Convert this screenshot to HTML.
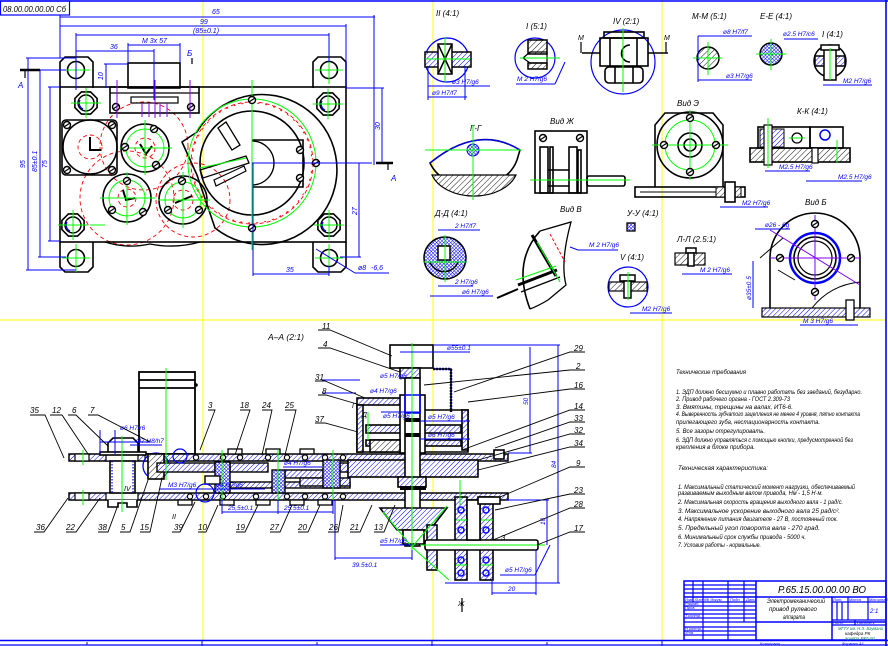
<!DOCTYPE html>
<html><head><meta charset="utf-8"><style>
html,body{margin:0;padding:0;background:#fff;}
svg{display:block}
text{font-family:"Liberation Sans","DejaVu Sans",sans-serif;font-style:italic;}
</style></head><body>
<svg width="888" height="646" viewBox="0 0 888 646" xmlns="http://www.w3.org/2000/svg">
<defs>
<pattern id="h" width="3.5" height="3.5" patternUnits="userSpaceOnUse" patternTransform="rotate(45)"><rect width="3.5" height="3.5" fill="#fff"/><line x1="0" y1="0" x2="0" y2="3.5" stroke="#0000ff" stroke-width="1"/></pattern>
<pattern id="hk" width="4" height="4" patternUnits="userSpaceOnUse" patternTransform="rotate(45)"><rect width="4" height="4" fill="#fff"/><line x1="0" y1="0" x2="0" y2="4" stroke="#000" stroke-width="0.9"/></pattern>
<pattern id="x" width="2.5" height="2.5" patternUnits="userSpaceOnUse" patternTransform="rotate(45)"><rect width="2.5" height="2.5" fill="#fff"/><line x1="0" y1="0" x2="0" y2="2.5" stroke="#0000ff" stroke-width="1"/><line x1="0" y1="0" x2="2.5" y2="0" stroke="#0000ff" stroke-width="1"/></pattern>
<g id="oct">
<polygon points="11.1,-4.6 11.1,4.6 4.6,11.1 -4.6,11.1 -11.1,4.6 -11.1,-4.6 -4.6,-11.1 4.6,-11.1" fill="none" stroke="#000" stroke-width="1.6"/>
<circle r="8" fill="none" stroke="#000" stroke-width="1.5"/>
<path d="M-6,-3 A6.5,6.5 0 0 0 -3,6" fill="none" stroke="#00f" stroke-width="1.3"/>
<line x1="-15" y1="0" x2="15" y2="0" stroke="#0f0" stroke-width="1"/>
<line x1="0" y1="-15" x2="0" y2="15" stroke="#0f0" stroke-width="1"/>
</g>
<g id="scr"><circle r="3.5" fill="#fff" stroke="#000" stroke-width="1.4"/><line x1="-3" y1="2" x2="3" y2="-2" stroke="#000" stroke-width="1.2"/></g>
<g id="ball"><circle r="2.6" fill="#fff" stroke="#000" stroke-width="1.2"/></g>
</defs>

<!-- sheet tiling lines -->
<g stroke="#ffff30" stroke-width="1.2">
<line x1="203" y1="0" x2="203" y2="641"/>
<line x1="433" y1="0" x2="433" y2="641"/>
<line x1="662" y1="0" x2="662" y2="641"/>
<line x1="0" y1="320" x2="886" y2="320"/>
</g>

<!-- frame -->
<g stroke="#0000ff" fill="none">
<line x1="0" y1="1" x2="888" y2="1" stroke-width="1.6"/>
<line x1="886" y1="0" x2="886" y2="646" stroke-width="1.6"/>
<line x1="0" y1="640.5" x2="888" y2="640.5" stroke-width="1.6"/>
<line x1="0" y1="645" x2="888" y2="645" stroke-width="1.2"/>
<line x1="202" y1="640" x2="202" y2="646"/><line x1="432" y1="640" x2="432" y2="646"/><line x1="662" y1="640" x2="662" y2="646"/>
<line x1="87" y1="642" x2="87" y2="645"/><line x1="317" y1="642" x2="317" y2="645"/><line x1="547" y1="642" x2="547" y2="645"/>
<rect x="0.5" y="1" width="69" height="14" stroke-width="1.2"/>
</g>
<text x="3" y="12" font-size="8.5" fill="#000" textLength="63" lengthAdjust="spacingAndGlyphs">08.00.00.00.00 Сб</text>

<!-- ===================== TOP-LEFT PLAN VIEW ===================== -->
<g fill="none" stroke="#f00" stroke-width="0.9" stroke-dasharray="4,3">
<circle cx="127" cy="198" r="47"/>
<circle cx="193" cy="200" r="37"/>
<circle cx="144" cy="146" r="44"/>
<circle cx="90" cy="147" r="12"/>
<circle cx="145" cy="148" r="10"/>
<circle cx="127" cy="198" r="9"/>
<circle cx="183" cy="200" r="10"/>
<circle cx="252" cy="163" r="61"/>
<circle cx="252" cy="163" r="60" stroke-dasharray="2,6"/>
</g>
<g fill="none" stroke="#000" stroke-width="1.6">
<path d="M60,88 V62 L65,57 H88 L93,62 V88"/>
<path d="M313,88 V62 L318,57 H341 L346,62 V88"/>
<path d="M60,242 V267 L65,272 H88 L93,267 V242"/>
<path d="M313,242 V267 L318,272 H341 L346,267 V242"/>
<circle cx="76" cy="70" r="8.5"/><circle cx="329" cy="70" r="8.5"/>
<circle cx="76" cy="258" r="8.5"/><circle cx="329" cy="258" r="8.5"/>
<rect x="60" y="87" width="286" height="155"/>
<path d="M105,242 Q127,249 150,244 Q175,249 200,242" stroke-width="1.4"/>
<rect x="128" y="63" width="52" height="25"/>
<rect x="110" y="87" width="89" height="26"/>
<line x1="110" y1="93" x2="199" y2="93" stroke-width="1.2"/>
<rect x="131" y="97" width="47" height="6" stroke-width="1.2"/>
<rect x="62" y="120" width="55" height="55" rx="4"/>
<circle cx="90" cy="147" r="27"/>
<path d="M90,137 V150 H101" stroke-width="2"/>
<circle cx="145" cy="148" r="24"/>
<circle cx="127" cy="198" r="24"/>
<circle cx="183" cy="200" r="24"/>
<path d="M140,144 L146,154 L152,146" stroke-width="2"/>
<path d="M123,190 L126,200 L135,198" stroke-width="2"/>
<path d="M175,203 L192,196" stroke-width="2"/>
<path d="M197,132 A75,75 0 1 1 215,228 L197,175 L182,142 Z"/>
<circle cx="252" cy="163" r="52"/>
<path d="M252,140 H303 V187 H252" />
<path d="M252,141 A22,22 0 0 1 252,185" stroke-width="1.3"/>
<polygon points="200,170 246,156 249,163 203,178" stroke-width="1.3"/>
<polygon points="218,128 226,122 240,145 232,150" stroke-width="1.3"/>
<polygon points="214,180 244,166 246,171 216,186" stroke-width="1.2"/>
</g>
<g fill="none" stroke="#0f0" stroke-width="1">
<circle cx="252" cy="163" r="64"/>
<circle cx="145" cy="148" r="19"/>
<circle cx="127" cy="198" r="18"/>
<circle cx="183" cy="200" r="18"/>
<line x1="252" y1="80" x2="252" y2="250"/>
<line x1="120" y1="148" x2="172" y2="148"/><line x1="145" y1="120" x2="145" y2="175"/>
<line x1="100" y1="198" x2="155" y2="198"/><line x1="127" y1="172" x2="127" y2="225"/>
<line x1="158" y1="200" x2="210" y2="200"/><line x1="183" y1="172" x2="183" y2="228"/>
<line x1="200" y1="168" x2="246" y2="158"/>
<line x1="90" y1="225" x2="105" y2="225"/>
</g>
<use href="#oct" x="86" y="103"/><use href="#oct" x="328" y="104"/>
<use href="#oct" x="73" y="225"/><use href="#oct" x="329" y="225"/>
<g fill="none" stroke="#0f0" stroke-width="1">
<line x1="62" y1="70" x2="90" y2="70"/><line x1="76" y1="56" x2="76" y2="84"/>
<line x1="315" y1="70" x2="343" y2="70"/><line x1="329" y1="56" x2="329" y2="84"/>
<line x1="62" y1="258" x2="90" y2="258"/><line x1="76" y1="244" x2="76" y2="272"/>
<line x1="315" y1="258" x2="343" y2="258"/><line x1="329" y1="244" x2="329" y2="272"/>
</g>
<use href="#scr" x="116" y="107"/><use href="#scr" x="191" y="107"/>
<use href="#scr" x="67" y="125"/><use href="#scr" x="112" y="125"/><use href="#scr" x="67" y="170"/><use href="#scr" x="112" y="170"/>
<use href="#scr" x="154" y="129"/><use href="#scr" x="125" y="147"/><use href="#scr" x="156" y="165"/>
<use href="#scr" x="127" y="181"/><use href="#scr" x="112" y="210"/><use href="#scr" x="143" y="212"/>
<use href="#scr" x="182" y="181"/><use href="#scr" x="168" y="210"/><use href="#scr" x="199" y="210"/>
<use href="#scr" x="252" y="100"/><use href="#scr" x="252" y="228"/><use href="#scr" x="316" y="163"/>
<use href="#scr" x="300" y="150"/><use href="#scr" x="300" y="178"/>
<g stroke="#8000ff" stroke-width="1">
<line x1="117" y1="80" x2="117" y2="118"/><line x1="155" y1="80" x2="155" y2="118"/><line x1="190" y1="80" x2="190" y2="118"/>
<line x1="142" y1="103" x2="142" y2="117"/><line x1="149" y1="103" x2="149" y2="117"/><line x1="160" y1="103" x2="160" y2="117"/><line x1="167" y1="103" x2="167" y2="117"/>
</g>
<g stroke="#0000ff" stroke-width="1" fill="none">
<line x1="60" y1="17" x2="375" y2="17"/><line x1="374" y1="15" x2="374" y2="165"/>
<line x1="60" y1="26" x2="346" y2="26"/><line x1="346" y1="24" x2="346" y2="88"/>
<line x1="76" y1="35" x2="329" y2="35"/><line x1="329" y1="33" x2="329" y2="62"/><line x1="76" y1="33" x2="76" y2="90"/>
<line x1="76" y1="51" x2="154" y2="51"/><line x1="154" y1="49" x2="154" y2="100"/>
<line x1="128" y1="45" x2="180" y2="45"/><line x1="128" y1="43" x2="128" y2="63"/><line x1="180" y1="43" x2="180" y2="63"/>
<line x1="106" y1="64" x2="106" y2="88"/><line x1="104" y1="64" x2="128" y2="64"/>
<line x1="60" y1="15" x2="60" y2="58"/>
<line x1="28" y1="58" x2="28" y2="270"/><line x1="26" y1="58" x2="76" y2="58"/><line x1="26" y1="270" x2="76" y2="270"/>
<line x1="40" y1="70" x2="40" y2="257"/><line x1="38" y1="70" x2="66" y2="70"/><line x1="38" y1="257" x2="66" y2="257"/>
<line x1="50" y1="87" x2="50" y2="241"/><line x1="48" y1="87" x2="60" y2="87"/><line x1="48" y1="241" x2="60" y2="241"/>
<line x1="382" y1="88" x2="382" y2="163"/><line x1="346" y1="88" x2="384" y2="88"/>
<line x1="359" y1="163" x2="359" y2="257"/><line x1="340" y1="257" x2="361" y2="257"/>
<line x1="252" y1="163" x2="372" y2="163"/>
<line x1="253" y1="274" x2="329" y2="274"/><line x1="253" y1="163" x2="253" y2="276"/><line x1="329" y1="266" x2="329" y2="276"/>
<line x1="316" y1="249" x2="355" y2="273"/><line x1="355" y1="273" x2="389" y2="273"/>
</g>
<g stroke="#000" stroke-width="2.5"><line x1="20" y1="70" x2="40" y2="70"/><line x1="376" y1="163" x2="393" y2="163"/></g>
<g stroke="#000" stroke-width="1.2"><line x1="25" y1="70" x2="25" y2="78"/><line x1="388" y1="163" x2="388" y2="170"/><line x1="192" y1="58" x2="192" y2="64"/></g>
<g font-size="7" fill="#0000ff">
<text x="212" y="14">65</text>
<text x="200" y="24">99</text>
<text x="193" y="33">(85±0.1)</text>
<text x="110" y="49">36</text>
<text x="142" y="43">M 3x 57</text>
<text x="286" y="272">35</text>
<text x="358" y="270">ø8</text><text x="371" y="270">-6,6</text>
<text transform="translate(25,168) rotate(-90)">95</text>
<text transform="translate(37,172) rotate(-90)">85±0.1</text>
<text transform="translate(47,168) rotate(-90)">75</text>
<text transform="translate(380,130) rotate(-90)">30</text>
<text transform="translate(357,215) rotate(-90)">27</text>
<text transform="translate(103,80) rotate(-90)">10</text>
</g>
<g font-size="8" fill="#0000ff"><text x="18" y="88">A</text><text x="391" y="181">A</text><text x="187" y="56">Б</text></g>

<!-- ===================== TOP-RIGHT DETAIL VIEWS ===================== -->
<g font-size="8" fill="#000">
<text x="436" y="16">II (4:1)</text>
<text x="526" y="29">I (5:1)</text>
<text x="613" y="24">IV (2:1)</text>
<text x="692" y="19">М-М (5:1)</text>
<text x="760" y="19">Е-Е (4:1)</text>
<text x="822" y="37">I (4:1)</text>
<text x="470" y="131">Г-Г</text>
<text x="550" y="124">Вид Ж</text>
<text x="677" y="106">Вид Э</text>
<text x="797" y="114">К-К (4:1)</text>
<text x="435" y="216">Д-Д (4:1)</text>
<text x="560" y="212">Вид В</text>
<text x="627" y="216">У-У (4:1)</text>
<text x="620" y="260">V (4:1)</text>
<text x="677" y="242">Л-Л (2.5:1)</text>
<text x="805" y="205">Вид Б</text>
</g>
<g fill="none" stroke="#000" stroke-width="1.5">
<circle cx="447" cy="60" r="22" stroke="#00f" stroke-width="1.2"/>
<rect x="425" y="52" width="46" height="15" fill="url(#h)"/>
<rect x="438" y="44" width="14" height="30" fill="#fff"/>
<line x1="438" y1="44" x2="452" y2="74"/><line x1="452" y1="44" x2="438" y2="74"/>
</g>
<g stroke="#0f0"><line x1="445" y1="37" x2="445" y2="82"/><line x1="425" y1="59" x2="470" y2="59"/></g>
<g fill="none" stroke="#000" stroke-width="1.5">
<circle cx="535" cy="58" r="20" stroke="#00f" stroke-width="1.2"/>
<rect x="528" y="40" width="19" height="14" fill="url(#hk)"/>
<rect x="528" y="63" width="19" height="6" fill="url(#hk)"/>
<path d="M523,58 L530,52 H547 V63 H530 Z" stroke-width="1.2"/>
</g>
<line x1="520" y1="58" x2="560" y2="58" stroke="#0f0"/>
<g fill="none" stroke="#000" stroke-width="1.6">
<circle cx="623" cy="62" r="32" stroke="#00f" stroke-width="1.2"/>
<rect x="600" y="38" width="48" height="28"/>
<rect x="604" y="32" width="40" height="6"/>
<line x1="610" y1="38" x2="610" y2="66"/><line x1="637" y1="38" x2="637" y2="66"/>
<rect x="605" y="67" width="38" height="16" rx="4"/>
<line x1="615" y1="67" x2="615" y2="83"/><line x1="633" y1="67" x2="633" y2="83"/>
<line x1="582" y1="53" x2="600" y2="53"/><line x1="648" y1="53" x2="668" y2="53"/>
<path d="M630,45 A8,8 0 0 0 630,62"/>
</g>
<line x1="623" y1="28" x2="623" y2="92" stroke="#0f0"/>
<g stroke="#000" stroke-width="1.2"><line x1="581" y1="42" x2="581" y2="53"/><line x1="666" y1="42" x2="666" y2="53"/></g>
<g font-size="7" fill="#000"><text x="578" y="40">M</text><text x="664" y="40">M</text></g>
<g stroke="#000" stroke-width="1.5">
<circle cx="708" cy="58" r="11" fill="url(#hk)"/>
<circle cx="771" cy="54" r="11" fill="url(#x)"/>
<circle cx="830" cy="61" r="16" fill="none"/>
<rect x="815" y="56" width="30" height="10" fill="url(#h)"/>
<rect x="824" y="48" width="12" height="32" fill="#fff"/>
<rect x="821" y="45" width="18" height="5" fill="#fff"/>
</g>
<g stroke="#0f0"><line x1="708" y1="42" x2="708" y2="75"/><line x1="693" y1="58" x2="722" y2="58"/><line x1="771" y1="39" x2="771" y2="70"/><line x1="756" y1="54" x2="786" y2="54"/><line x1="830" y1="48" x2="830" y2="80"/></g>
<path d="M430,163 Q478,124 520,150 L517,160 A46,38 0 0 1 430,163 Z" fill="none" stroke="#000" stroke-width="1.6"/>
<path d="M432,175 H516 A44,30 0 0 1 432,175 Z" fill="url(#hk)" stroke="#000" stroke-width="1.2"/>
<path d="M430,163 Q478,124 520,150" fill="none" stroke="#00f" stroke-width="1.2"/>
<circle cx="473" cy="150" r="6" fill="url(#x)" stroke="#00f"/>
<g stroke="#0f0"><line x1="425" y1="150" x2="522" y2="150"/><line x1="473" y1="125" x2="473" y2="200"/></g>
<g fill="none" stroke="#000" stroke-width="1.6">
<rect x="535" y="131" width="52" height="62"/>
<rect x="540" y="147" width="8" height="46"/><rect x="550" y="147" width="3" height="46"/>
<rect x="569" y="147" width="8" height="46"/><rect x="578" y="150" width="3" height="43"/>
<rect x="587" y="176" width="38" height="10" rx="2"/>
<line x1="548" y1="170" x2="569" y2="170"/><line x1="548" y1="186" x2="569" y2="186"/>
</g>
<use href="#scr" x="543" y="138"/><use href="#scr" x="580" y="138"/>
<line x1="530" y1="180" x2="630" y2="180" stroke="#0f0"/>
<g fill="none" stroke="#000" stroke-width="1.6">
<path d="M655,187 V125 L665,113 H713 L723,125 V187"/>
<circle cx="690" cy="145" r="33"/>
<circle cx="690" cy="145" r="12"/><circle cx="690" cy="145" r="6"/>
<rect x="635" y="187" width="110" height="10"/>
<line x1="640" y1="192" x2="740" y2="192" stroke-width="1"/>
<rect x="716" y="187" width="25" height="10" fill="url(#hk)" stroke-width="1"/>
<rect x="725" y="182" width="10" height="20" fill="#fff"/>
</g>
<circle cx="690" cy="145" r="25" fill="none" stroke="#0f0"/>
<g stroke="#0f0"><line x1="652" y1="145" x2="728" y2="145"/><line x1="690" y1="110" x2="690" y2="180"/></g>
<use href="#scr" x="690" y="118"/><use href="#scr" x="690" y="172"/><use href="#scr" x="664" y="145"/><use href="#scr" x="716" y="145"/>
<g fill="none" stroke="#000" stroke-width="1.6">
<rect x="750" y="148" width="100" height="14" fill="url(#hk)"/>
<rect x="758" y="127" width="52" height="21" fill="#fff"/>
<rect x="760" y="129" width="24" height="18" fill="url(#h)" stroke-width="1"/>
<rect x="810" y="127" width="33" height="21"/>
<rect x="764" y="125" width="8" height="40" fill="#fff" stroke-width="1.2"/>
<rect x="812" y="148" width="6" height="15" fill="#fff" stroke-width="1.2"/>
</g>
<circle cx="797" cy="138" r="5" fill="none" stroke="#000" stroke-width="1.3"/>
<circle cx="825" cy="135" r="5" fill="none" stroke="#00f" stroke-width="1.5"/>
<g stroke="#0f0"><line x1="768" y1="118" x2="768" y2="168"/><line x1="789" y1="138" x2="805" y2="138"/><line x1="837" y1="140" x2="837" y2="163"/></g>
<circle cx="445" cy="258" r="21" fill="url(#x)" stroke="#000" stroke-width="1.5"/>
<rect x="438" y="246" width="12" height="14" fill="#fff" stroke="#000" stroke-width="1.5"/>
<path d="M430,262 A15,15 0 0 0 458,262" fill="none" stroke="#000" stroke-width="1.5"/>
<g stroke="#0f0"><line x1="445" y1="235" x2="445" y2="282"/><line x1="424" y1="262" x2="466" y2="262"/></g>
<g fill="none" stroke="#000" stroke-width="1.6">
<path d="M540,231 Q512,262 530,309"/>
<path d="M540,231 L571,222 Q560,262 566,285 L548,300 Q538,306 530,309" stroke-width="1.3"/>
<path d="M532,235 L556,276" stroke-width="3"/>
<path d="M518,285 L557,270" stroke-width="3"/>
<path d="M521,292 L560,277" stroke-width="1.3"/>
<line x1="497" y1="298" x2="518" y2="289" stroke-width="2"/>
</g>
<g stroke="#0f0"><line x1="537" y1="242" x2="560" y2="282"/><line x1="516" y1="280" x2="556" y2="266"/></g>
<g stroke="#f00" stroke-dasharray="3,2"><line x1="550" y1="234" x2="565" y2="262"/></g>
<rect x="627" y="223" width="8" height="8" fill="url(#x)" stroke="#000" stroke-width="1.3"/>
<circle cx="628" cy="287" r="20" fill="none" stroke="#00f" stroke-width="1.2"/>
<rect x="609" y="282" width="38" height="9" fill="url(#hk)" stroke="#000" stroke-width="1.2"/>
<rect x="620" y="275" width="15" height="6" fill="#fff" stroke="#000" stroke-width="1.5"/>
<rect x="624" y="281" width="7" height="17" fill="#fff" stroke="#000" stroke-width="1.5"/>
<line x1="628" y1="272" x2="628" y2="300" stroke="#0f0"/>
<rect x="675" y="253" width="30" height="12" fill="url(#hk)" stroke="#000" stroke-width="1.2"/>
<rect x="686" y="248" width="10" height="5" fill="#fff" stroke="#000" stroke-width="1.5"/>
<rect x="688" y="253" width="6" height="13" fill="#fff" stroke="#000" stroke-width="1.5"/>
<g fill="none" stroke="#000" stroke-width="1.6">
<path d="M770,308 V258 A45,45 0 0 1 860,258 V308"/>
<rect x="762" y="308" width="108" height="9" fill="url(#h)" stroke-width="1.2"/>
<circle cx="815" cy="258" r="21"/>
<circle cx="815" cy="258" r="17" stroke-width="1.2"/>
<path d="M812,308 Q830,285 860,282" stroke-width="1"/>
<rect x="846" y="300" width="8" height="20" fill="#fff" stroke-width="1.3"/>
</g>
<circle cx="815" cy="258" r="25" fill="none" stroke="#00f" stroke-width="2.5"/>
<g stroke="#8000ff" stroke-width="1"><line x1="815" y1="215" x2="815" y2="300"/><line x1="770" y1="258" x2="860" y2="258"/><line x1="770" y1="230" x2="860" y2="285"/></g>
<use href="#scr" x="815" y="224"/><use href="#scr" x="815" y="292"/><use href="#scr" x="780" y="258"/><use href="#scr" x="851" y="258"/>
<g stroke="#000" stroke-width="1"><line x1="760" y1="258" x2="783" y2="238"/><line x1="778" y1="270" x2="795" y2="280"/></g>
<g stroke="#0000ff" stroke-width="1" fill="none">
<line x1="428" y1="86" x2="490" y2="86"/><line x1="428" y1="97" x2="467" y2="97"/>
<line x1="428" y1="66" x2="428" y2="100"/><line x1="465" y1="66" x2="465" y2="100"/>
<line x1="516" y1="84" x2="555" y2="84"/><line x1="555" y1="84" x2="565" y2="62"/>
<line x1="698" y1="36" x2="752" y2="36"/><line x1="698" y1="80" x2="752" y2="80"/><line x1="698" y1="36" x2="698" y2="82"/>
<line x1="784" y1="39" x2="818" y2="39"/>
<line x1="823" y1="85" x2="872" y2="85"/>
<line x1="438" y1="230" x2="480" y2="230"/><line x1="438" y1="286" x2="473" y2="286"/><line x1="430" y1="296" x2="493" y2="296"/>
<line x1="578" y1="250" x2="618" y2="250"/><line x1="570" y1="247" x2="578" y2="250"/>
<line x1="630" y1="313" x2="672" y2="313"/>
<line x1="682" y1="274" x2="732" y2="274"/>
<line x1="753" y1="261" x2="753" y2="308"/>
<line x1="755" y1="229" x2="790" y2="229"/>
<line x1="800" y1="325" x2="858" y2="325"/>
<line x1="765" y1="171" x2="810" y2="171"/><line x1="806" y1="181" x2="862" y2="181"/>
<line x1="720" y1="207" x2="768" y2="207"/>
</g>
<g font-size="6.5" fill="#0000ff">
<text x="452" y="84">ø3 H7/g6</text><text x="432" y="95">ø9 H7/f7</text>
<text x="517" y="81">M 2 H7/g6</text>
<text x="723" y="34">ø8 H7/f7</text><text x="726" y="78">ø3 H7/g6</text>
<text x="783" y="36">ø2.5 H7/c6</text>
<text x="843" y="83">M2 H7/g6</text>
<text x="455" y="228">2 H7/f7</text><text x="455" y="284">2 H7/g6</text><text x="462" y="294">ø6 H7/g6</text>
<text x="589" y="247">M 2 H7/g6</text>
<text x="642" y="311">M2 H7/g6</text>
<text x="700" y="272">M 2 H7/g6</text>
<text x="779" y="169">M2.5 H7/g6</text><text x="838" y="179">M2.5 H7/g6</text>
<text x="742" y="205">M2 H7/g6</text>
<text x="803" y="323">M 3 H7/g6</text>
<text x="765" y="227">ø26 - 6g</text>
<text transform="translate(751,300) rotate(-90)">ø35±0.5</text>
</g>

<!-- ===================== SECTION A-A ===================== -->
<text x="268" y="340" font-size="8.5" fill="#000">А–А (2:1)</text>
<g fill="none" stroke="#000" stroke-width="1.8">
<rect x="139" y="372" width="56" height="82" fill="#fff"/>
<line x1="139" y1="380" x2="195" y2="380"/><line x1="139" y1="388" x2="195" y2="388"/>
</g>
<circle cx="196" cy="385" r="1.8" fill="#000"/>
<g stroke="#000" stroke-width="1.5">
<rect x="69" y="454" width="439" height="7" fill="url(#h)"/>
<rect x="69" y="493" width="439" height="7" fill="url(#h)"/>
</g>
<g fill="#fff" stroke="#000" stroke-width="1.2">
<rect x="75" y="454" width="14" height="7"/><rect x="75" y="493" width="14" height="7"/>
<rect x="106" y="454" width="32" height="7"/><rect x="106" y="493" width="32" height="7"/>
<rect x="145" y="454" width="12" height="7"/>
</g>
<g stroke="#000" stroke-width="1.6" fill="#fff">
<rect x="110" y="461" width="25" height="32"/>
<path d="M108,454 V443 L113,438 H133 L138,443 V454 Z"/>
<rect x="100" y="452" width="46" height="3"/>
<path d="M108,500 V507 H118 V503 H127 V507 H137 V500"/>
</g>
<g stroke="#00f" stroke-width="1.2" stroke-dasharray="1.5,1.5"><line x1="112" y1="461" x2="112" y2="493"/><line x1="133" y1="461" x2="133" y2="493"/></g>
<circle cx="156" cy="466" r="13" fill="none" stroke="#00f" stroke-width="1.3"/>
<rect x="148" y="454" width="16" height="25" fill="url(#hk)" stroke="#000" stroke-width="1.6"/>
<g stroke="#000" stroke-width="1.4">
<rect x="157" y="463" width="58" height="9" fill="url(#h)"/>
<rect x="230" y="463" width="38" height="9" fill="url(#h)"/>
<rect x="230" y="482" width="120" height="6" fill="url(#h)"/>
<rect x="285" y="470" width="38" height="8" fill="url(#h)"/>
<rect x="340" y="463" width="20" height="9" fill="url(#h)"/>
<rect x="300" y="478" width="50" height="8" fill="url(#h)"/>
<rect x="215" y="462" width="15" height="31" fill="url(#x)"/>
<rect x="272" y="470" width="13" height="23" fill="url(#x)"/>
<rect x="323" y="460" width="17" height="28" fill="url(#x)"/>
<rect x="205" y="476" width="15" height="8" fill="#fff"/>
</g>
<g>
<use href="#ball" x="196" y="457.5"/><use href="#ball" x="223" y="457.5"/><use href="#ball" x="240" y="457.5"/><use href="#ball" x="268" y="457.5"/><use href="#ball" x="287" y="457.5"/><use href="#ball" x="305" y="457.5"/><use href="#ball" x="325" y="457.5"/><use href="#ball" x="343" y="457.5"/>
<use href="#ball" x="190" y="496.5"/><use href="#ball" x="206" y="496.5"/><use href="#ball" x="223" y="496.5"/><use href="#ball" x="256" y="496.5"/><use href="#ball" x="287" y="496.5"/><use href="#ball" x="305" y="496.5"/><use href="#ball" x="325" y="496.5"/><use href="#ball" x="343" y="496.5"/>
</g>
<g fill="#fff" stroke="#000" stroke-width="1.3">
<rect x="178" y="500" width="14" height="5"/><rect x="220" y="500" width="14" height="5"/><rect x="256" y="500" width="14" height="5"/><rect x="290" y="500" width="14" height="5"/><rect x="318" y="500" width="14" height="5"/>
<rect x="228" y="449" width="14" height="5"/><rect x="266" y="449" width="14" height="5"/><rect x="300" y="449" width="14" height="5"/>
</g>
<circle cx="180" cy="456" r="7" fill="none" stroke="#00f" stroke-width="1.2"/>
<circle cx="205" cy="493" r="9" fill="none" stroke="#00f" stroke-width="1.2"/>
<g stroke="#000" stroke-width="1.6">
<rect x="390" y="345" width="43" height="23" fill="#fff"/>
<rect x="400" y="368" width="20" height="10" fill="url(#h)"/>
<path d="M433,369 H451 V412" fill="none" stroke="#00f" stroke-width="2.5" stroke-dasharray="2,1"/>
<path d="M433,369 H451 V412" fill="none"/>
<rect x="357" y="398" width="60" height="7" fill="url(#h)"/>
<path d="M357,405 V452 H468 V410 H417" fill="none"/>
<rect x="357" y="405" width="6" height="47" fill="url(#h)"/>
<rect x="462" y="410" width="6" height="40" fill="url(#h)"/>
<rect x="366" y="425" width="95" height="8" fill="url(#h)"/>
<rect x="366" y="440" width="95" height="6" fill="url(#h)"/>
<rect x="400" y="395" width="25" height="58" fill="#fff"/>
<rect x="370" y="440" width="30" height="12" fill="url(#hk)"/>
<rect x="348" y="460" width="130" height="17" fill="url(#h)"/>
<rect x="405" y="378" width="15" height="168" fill="#fff"/>
<rect x="398" y="477" width="28" height="10" fill="url(#h)"/>
<path d="M380,508 H447 L430,530 H397 Z" fill="url(#h)"/>
<rect x="403" y="530" width="21" height="14" fill="#fff"/>
<rect x="455" y="497" width="12" height="83" fill="url(#h)"/>
<rect x="480" y="497" width="13" height="83" fill="url(#h)"/>
<rect x="427" y="525" width="10" height="45" fill="url(#h)"/>
<rect x="425" y="540" width="113" height="10" rx="2" fill="#fff"/>
<rect x="467" y="500" width="13" height="40" fill="#fff"/>
<rect x="478" y="497" width="22" height="7" fill="#fff"/>
<rect x="494" y="450" width="10" height="9" fill="#fff"/>
</g>
<g fill="#000"><rect x="405" y="418" width="15" height="4"/><rect x="405" y="433" width="15" height="4"/><rect x="400" y="486" width="26" height="4"/></g>
<g stroke="#00f" stroke-width="1.5" fill="none">
<rect x="405" y="395" width="15" height="18"/>
<circle cx="461" cy="510" r="3"/><circle cx="461" cy="530" r="3"/><circle cx="461" cy="560" r="3"/><circle cx="461" cy="573" r="3"/>
<circle cx="486" cy="510" r="3"/><circle cx="486" cy="530" r="3"/><circle cx="486" cy="560" r="3"/><circle cx="486" cy="573" r="3"/>
</g>
<g stroke="#0f0" stroke-width="1">
<line x1="412" y1="343" x2="412" y2="560"/>
<line x1="166" y1="368" x2="166" y2="480"/>
<line x1="122" y1="436" x2="122" y2="512"/>
<line x1="83" y1="450" x2="83" y2="465"/><line x1="83" y1="490" x2="83" y2="505"/>
<line x1="222" y1="450" x2="222" y2="505"/><line x1="278" y1="450" x2="278" y2="505"/><line x1="333" y1="450" x2="333" y2="505"/>
<line x1="383" y1="512" x2="412" y2="547"/><line x1="447" y1="506" x2="412" y2="547"/><line x1="412" y1="547" x2="449" y2="580"/>
<line x1="420" y1="545" x2="545" y2="545"/>
<line x1="456" y1="520" x2="467" y2="520"/><line x1="456" y1="565" x2="467" y2="565"/>
<line x1="481" y1="520" x2="493" y2="520"/><line x1="481" y1="565" x2="493" y2="565"/>
<line x1="368" y1="412" x2="368" y2="440"/><line x1="460" y1="480" x2="460" y2="505"/>
</g>
<g stroke="#0000ff" stroke-width="1" fill="none">
<line x1="433" y1="345" x2="560" y2="345"/>
<line x1="400" y1="352" x2="470" y2="352"/>
<line x1="530" y1="347" x2="530" y2="453"/><line x1="508" y1="453" x2="532" y2="453"/>
<line x1="558" y1="345" x2="558" y2="583"/><line x1="445" y1="583" x2="560" y2="583"/>
<line x1="547" y1="500" x2="547" y2="545"/><line x1="505" y1="500" x2="549" y2="500"/>
<line x1="335" y1="558" x2="412" y2="558"/><line x1="335" y1="500" x2="335" y2="560"/><line x1="412" y1="550" x2="412" y2="560"/>
<line x1="492" y1="593" x2="536" y2="593"/><line x1="492" y1="580" x2="492" y2="595"/><line x1="536" y1="550" x2="536" y2="595"/>
<line x1="222" y1="512" x2="333" y2="512"/><line x1="222" y1="500" x2="222" y2="514"/><line x1="278" y1="500" x2="278" y2="514"/><line x1="333" y1="500" x2="333" y2="514"/>
<line x1="160" y1="489" x2="212" y2="489"/><line x1="212" y1="489" x2="265" y2="489"/>
<line x1="283" y1="467" x2="322" y2="467"/>
<line x1="100" y1="442" x2="150" y2="442"/><line x1="100" y1="430" x2="100" y2="454"/><line x1="115" y1="430" x2="115" y2="454"/>
<line x1="130" y1="445" x2="162" y2="445"/>
<line x1="322" y1="380" x2="360" y2="380"/><line x1="322" y1="393" x2="356" y2="393"/>
<line x1="381" y1="412" x2="420" y2="412"/><line x1="420" y1="421" x2="470" y2="421"/><line x1="420" y1="439" x2="470" y2="439"/>
<line x1="360" y1="558" x2="412" y2="558"/>
<line x1="380" y1="545" x2="412" y2="545"/>
<line x1="500" y1="575" x2="535" y2="575"/><line x1="535" y1="575" x2="550" y2="545"/>
</g>
<g font-size="6.5" fill="#0000ff">
<text x="447" y="350">ø55±0.1</text>
<text x="380" y="378">ø5 H7/g6</text><text x="370" y="393">ø4 H7/g6</text>
<text x="383" y="418">ø5 H7/g6</text><text x="428" y="419">ø5 H7/g6</text><text x="428" y="437">ø6 H7/g6</text>
<text x="284" y="465">ø4 H7/g6</text>
<text x="168" y="487">M3 H7/g6</text><text x="216" y="487">ø4 H7/g6</text>
<text x="120" y="430">ø6 Н7/r6</text><text x="136" y="443">Ø7 H8/h7</text>
<text x="228" y="510">25,5±0.1</text><text x="284" y="510">25.5±0.1</text>
<text x="352" y="567">39.5±0.1</text>
<text x="380" y="543">ø5 H7/g6</text>
<text x="505" y="572">ø5 H7/g6</text>
<text x="508" y="591">20</text>
<text transform="translate(528,405) rotate(-90)">50</text>
<text transform="translate(556,468) rotate(-90)">84</text>
<text transform="translate(545,525) rotate(-90)">10</text>
</g>
<g stroke="#000" stroke-width="0.9" fill="none">
<path d="M30,415 H45 L64,458"/><path d="M50,415 H62 L88,454"/><path d="M68,415 H76 L108,446"/><path d="M88,415 H98 L150,442"/>
<path d="M208,410 H215 L200,450"/><path d="M240,410 H250 L235,455"/><path d="M262,410 H272 L262,455"/><path d="M285,410 H296 L285,455"/>
<path d="M34,532 H44 L68,498"/><path d="M66,532 H76 L100,498"/><path d="M98,532 H108 L118,505"/><path d="M120,532 H130 L148,480"/><path d="M140,532 H150 L162,478"/>
<path d="M172,532 H180 L195,502"/><path d="M198,532 H206 L218,505"/><path d="M236,532 H245 L258,505"/><path d="M270,532 H280 L292,505"/><path d="M298,532 H308 L320,505"/><path d="M328,532 H338 L343,505"/><path d="M350,532 H360 L372,505"/><path d="M374,532 H384 L395,505"/>
<path d="M318,330 H330 L392,356"/><path d="M318,348 H330 L400,372"/><path d="M315,381 H325 L365,398"/><path d="M318,395 H326 L357,404"/><path d="M315,423 H325 L358,432"/>
<path d="M585,352 H570 L454,392"/><path d="M585,370 H570 L424,385"/><path d="M585,389 H570 L468,402"/><path d="M585,410 H570 L462,450"/><path d="M585,422 H570 L495,448"/><path d="M585,434 H570 L478,460"/><path d="M585,447 H570 L478,470"/><path d="M585,467 H570 L500,497"/><path d="M585,494 H570 L495,510"/><path d="M585,508 H570 L493,540"/><path d="M585,532 H570 L537,545"/>
</g>
<g font-size="8" fill="#000">
<text x="30" y="413">35</text><text x="52" y="413">12</text><text x="72" y="413">6</text><text x="90" y="413">7</text>
<text x="208" y="408">3</text><text x="240" y="408">18</text><text x="262" y="408">24</text><text x="285" y="408">25</text>
<text x="36" y="530">36</text><text x="66" y="530">22</text><text x="98" y="530">38</text><text x="121" y="530">5</text><text x="140" y="530">15</text>
<text x="174" y="530">39</text><text x="198" y="530">10</text><text x="236" y="530">19</text><text x="270" y="530">27</text><text x="298" y="530">20</text><text x="329" y="530">26</text><text x="350" y="530">21</text><text x="374" y="530">13</text>
<text x="322" y="329">11</text><text x="323" y="347">4</text><text x="315" y="380">31</text><text x="322" y="394">8</text><text x="315" y="422">37</text>
<text x="574" y="351">29</text><text x="576" y="369">2</text><text x="574" y="388">16</text><text x="574" y="409">14</text><text x="574" y="421">33</text><text x="574" y="433">32</text><text x="574" y="446">34</text><text x="576" y="466">9</text><text x="574" y="493">23</text><text x="574" y="507">28</text><text x="574" y="531">17</text>
</g>
<g font-size="7" fill="#000"><text x="124" y="491">IV</text><text x="172" y="519">II</text><text x="501" y="540">З</text><text x="458" y="606">Ж</text><text x="362" y="417">Д</text><text x="352" y="408">Г</text></g>
<line x1="462" y1="598" x2="462" y2="612" stroke="#000" stroke-width="1.2"/>

<!-- ===================== TECH REQUIREMENTS ===================== -->
<g font-size="6.6" fill="#000">
<text x="676" y="374" textLength="70" lengthAdjust="spacingAndGlyphs">Технические требования</text>
<text x="676" y="394" textLength="186" lengthAdjust="spacingAndGlyphs">1. ЭДП должно бесшумно и плавно работать без заеданий, безударно.</text>
<text x="676" y="401" textLength="114" lengthAdjust="spacingAndGlyphs">2. Привод рабочего органа - ГОСТ 2.309-73</text>
<text x="676" y="409" textLength="117" lengthAdjust="spacingAndGlyphs">3. Вмятины, трещины на валах, ИТ6-6.</text>
<text x="676" y="416" textLength="184" lengthAdjust="spacingAndGlyphs">4. Выверенность зубчатого зацепления не менее 4 уровня, пятно контакта</text>
<text x="676" y="424" textLength="144" lengthAdjust="spacingAndGlyphs">прилегающего зуба, нестационарность контакта.</text>
<text x="676" y="433" textLength="89" lengthAdjust="spacingAndGlyphs">5. Все зазоры отрегулировать.</text>
<text x="676" y="442" textLength="177" lengthAdjust="spacingAndGlyphs">6. ЭДП должно управляться с помощью кнопки, предусмотренной без</text>
<text x="676" y="449" textLength="79" lengthAdjust="spacingAndGlyphs">крепления в блоке прибора.</text>
<text x="678" y="470" textLength="90" lengthAdjust="spacingAndGlyphs">Техническая характеристика:</text>
<text x="678" y="489" textLength="177" lengthAdjust="spacingAndGlyphs">1. Максимальный статический момент нагрузки, обеспечиваемый</text>
<text x="678" y="495" textLength="145" lengthAdjust="spacingAndGlyphs">развиваемым выходным валом привода, Нм - 1,5 Н·м.</text>
<text x="678" y="504" textLength="165" lengthAdjust="spacingAndGlyphs">2. Максимальная скорость вращения выходного вала - 1 рад/с.</text>
<text x="678" y="513" textLength="162" lengthAdjust="spacingAndGlyphs">3. Максимальное ускорение выходного вала 25 рад/с².</text>
<text x="678" y="521" textLength="160" lengthAdjust="spacingAndGlyphs">4. Напряжение питания двигателя - 27 В, постоянный ток.</text>
<text x="678" y="530" textLength="142" lengthAdjust="spacingAndGlyphs">5. Предельный угол поворота вала - 270 град.</text>
<text x="678" y="539" textLength="128" lengthAdjust="spacingAndGlyphs">6. Минимальный срок службы привода - 5000 ч.</text>
<text x="678" y="547" textLength="83" lengthAdjust="spacingAndGlyphs">7. Условия работы - нормальные.</text>
</g>

<!-- ===================== TITLE BLOCK ===================== -->
<g stroke="#0000ff" stroke-width="1.2" fill="none">
<rect x="684" y="581" width="202" height="59" stroke-width="1.5"/>
<line x1="684" y1="597" x2="886" y2="597" stroke-width="1.5"/>
<line x1="756" y1="581" x2="756" y2="640" stroke-width="1.5"/>
<line x1="693" y1="581" x2="693" y2="602"/><line x1="703" y1="581" x2="703" y2="640"/><line x1="728" y1="581" x2="728" y2="602"/><line x1="744" y1="581" x2="744" y2="602"/>
<line x1="684" y1="585" x2="756" y2="585"/><line x1="684" y1="589" x2="756" y2="589"/><line x1="684" y1="593" x2="756" y2="593"/><line x1="684" y1="602" x2="756" y2="602"/>
<line x1="684" y1="606" x2="756" y2="606"/><line x1="684" y1="610" x2="756" y2="610"/><line x1="684" y1="614" x2="756" y2="614"/><line x1="684" y1="618" x2="756" y2="618"/><line x1="684" y1="622" x2="756" y2="622"/><line x1="684" y1="627" x2="756" y2="627"/><line x1="684" y1="631" x2="756" y2="631"/><line x1="684" y1="635" x2="756" y2="635"/>
<line x1="728" y1="597" x2="728" y2="640"/><line x1="744" y1="597" x2="744" y2="622"/>
<line x1="756" y1="622" x2="886" y2="622" stroke-width="1.5"/>
<line x1="832" y1="597" x2="832" y2="640" stroke-width="1.5"/>
<line x1="832" y1="602" x2="886" y2="602"/><line x1="832" y1="620" x2="886" y2="620"/><line x1="832" y1="625" x2="886" y2="625"/>
<line x1="848" y1="597" x2="848" y2="620"/><line x1="868" y1="597" x2="868" y2="620"/><line x1="837" y1="602" x2="837" y2="620"/><line x1="842" y1="602" x2="842" y2="620"/>
<line x1="855" y1="620" x2="855" y2="625"/>
</g>
<g font-size="4" fill="#0000ff">
<text x="685" y="601">Изм. Лист</text><text x="705" y="601">№ докум.</text><text x="730" y="601">Подп.</text><text x="746" y="601">Дата</text>
<text x="685" y="605">Разраб.</text><text x="685" y="609">Пров.</text><text x="685" y="617">Т.контр.</text><text x="685" y="630">Н.контр.</text><text x="685" y="634">Утв.</text>
<text x="833" y="601">Лит.</text><text x="849" y="601">Масса</text><text x="869" y="601">Масштаб</text>
<text x="833" y="624">Лист</text><text x="857" y="624">Листов 1</text>
<text x="760" y="645">Копировал</text><text x="842" y="645">Формат А1</text>
</g>
<text x="870" y="613" font-size="6" fill="#0000ff">2:1</text>
<text x="778" y="593" font-size="10" fill="#000" textLength="88" lengthAdjust="spacingAndGlyphs">Р.65.15.00.00.00 ВО</text>
<g font-size="6.5" fill="#000">
<text x="767" y="603" textLength="58" lengthAdjust="spacingAndGlyphs">Электромеханический</text>
<text x="769" y="611" textLength="48" lengthAdjust="spacingAndGlyphs">привод рулевого</text>
<text x="783" y="619" textLength="22" lengthAdjust="spacingAndGlyphs">аппарата</text>
</g>
<g font-size="4.5" fill="#008060">
<text x="838" y="630" textLength="45" lengthAdjust="spacingAndGlyphs">МГТУ им. Н.Э. Баумана</text>
<text x="845" y="635" fill="#000">кафедра РК</text>
<text x="845" y="640">группа РК5-91</text>
</g>
</svg>
</body></html>
